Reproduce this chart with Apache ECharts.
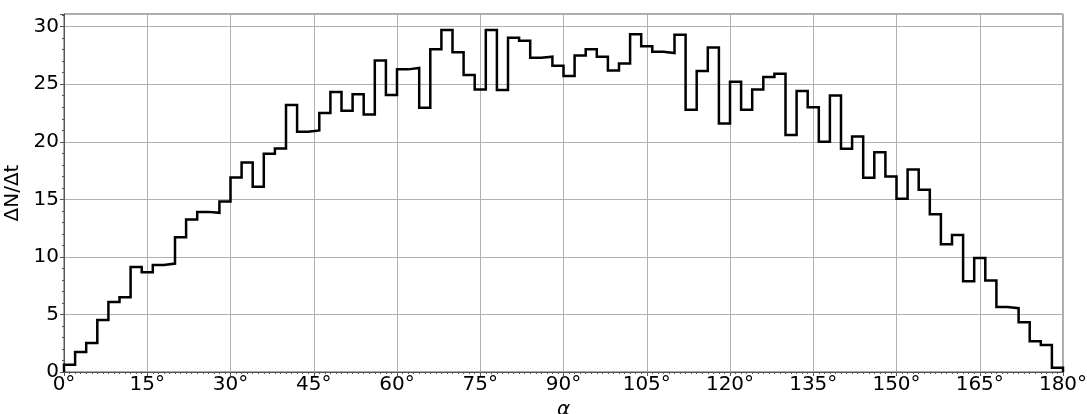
<!DOCTYPE html>
<html>
<head>
<meta charset="utf-8">
<script src="https://cdn.jsdelivr.net/npm/echarts@6/dist/echarts.min.js"></script>
<style>
  html, body { margin: 0; padding: 0; background: #fff; }
  #chart { width: 1087px; height: 414px; }
</style>
</head>
<body>
<div id="chart"></div>
<script>
// Histogram of the angle alpha: 90 bins of 2 degrees from 0° to 180°
const binStartDeg = 0;
const binWidthDeg = 2;
const rates = [
  0.64, 1.74, 2.52, 4.52, 6.09, 6.49, 9.13, 8.67, 9.30, 9.42,
  11.71, 13.25, 13.91, 13.83, 14.81, 16.90, 18.20, 16.09, 18.96, 19.42,
  23.20, 20.87, 20.99, 22.49, 24.32, 22.70, 24.12, 22.38, 27.07, 24.06,
  26.29, 26.41, 22.96, 28.03, 29.71, 27.77, 25.80, 24.55, 29.71, 24.49,
  29.04, 28.78, 27.30, 27.39, 26.60, 25.71, 27.50, 28.03, 27.39, 26.20,
  26.81, 29.33, 28.29, 27.83, 27.71, 29.30, 22.78, 26.14, 28.20, 21.59,
  25.22, 22.78, 24.55, 25.62, 25.91, 20.58, 24.41, 23.01, 20.00, 24.03,
  19.39, 20.46, 16.87, 19.10, 16.99, 15.04, 17.59, 15.83, 13.71, 11.10,
  11.91, 7.88, 9.91, 7.94, 5.65, 5.54, 4.32, 2.67, 2.35, 0.38
];
const xTickStepDeg = 15;
const yTickStep = 5;
const yMax = 31.1;

// Step outline: rise from zero at the first edge, one flat run per bin, drop to zero at the last edge
const edgeEnd = binStartDeg + rates.length * binWidthDeg;
const outline = [[binStartDeg, 0]];
rates.forEach((v, i) => outline.push([binStartDeg + i * binWidthDeg, v]));
outline.push([edgeEnd, rates[rates.length - 1]]);
outline.push([edgeEnd, 0]);

const font = 'DejaVu Sans';
const spine = '#555555';
const gridColor = '#b0b0b0';

const chart = echarts.init(document.getElementById('chart'), null, { renderer: 'canvas' });
chart.setOption({
  animation: false,
  backgroundColor: '#ffffff',
  grid: {
    left: 64, right: 24, top: 14, bottom: 42,
    outerBoundsMode: 'none',
    containLabel: false,
    show: true, borderColor: spine, borderWidth: 1, backgroundColor: 'transparent'
  },
  xAxis: {
    type: 'value',
    min: binStartDeg,
    max: edgeEnd,
    interval: xTickStepDeg,
    name: 'α',
    nameLocation: 'middle',
    nameGap: 25,
    nameTextStyle: { fontFamily: font, fontSize: 20, fontStyle: 'italic', color: '#000' },
    axisLine: { show: true, lineStyle: { color: spine, width: 1 } },
    axisTick: { show: true, length: 4, lineStyle: { color: spine, width: 1 } },
    minorTick: { show: true, splitNumber: 15, length: 2, lineStyle: { color: spine, width: 1 } },
    axisLabel: { formatter: '{value}°', fontFamily: font, fontSize: 20, color: '#000', margin: 3 },
    splitLine: { show: true, lineStyle: { color: gridColor, width: 1 } }
  },
  yAxis: {
    type: 'value',
    min: 0,
    max: yMax,
    interval: yTickStep,
    name: 'ΔN/Δt',
    nameLocation: 'middle',
    nameGap: 35,
    nameTextStyle: { fontFamily: font, fontSize: 20, color: '#000' },
    axisLine: { show: true, lineStyle: { color: spine, width: 1 } },
    axisTick: { show: true, length: 4, lineStyle: { color: spine, width: 1 } },
    minorTick: { show: true, splitNumber: 5, length: 2, lineStyle: { color: spine, width: 1 } },
    axisLabel: { fontFamily: font, fontSize: 20, color: '#000', margin: 5, showMaxLabel: false },
    splitLine: { show: true, lineStyle: { color: gridColor, width: 1 } }
  },
  series: [{
    type: 'line',
    step: 'end',
    data: outline,
    symbol: 'none',
    clip: false,
    lineStyle: { color: '#000000', width: 2.5, join: 'miter' }
  }]
});
</script>
</body>
</html>
